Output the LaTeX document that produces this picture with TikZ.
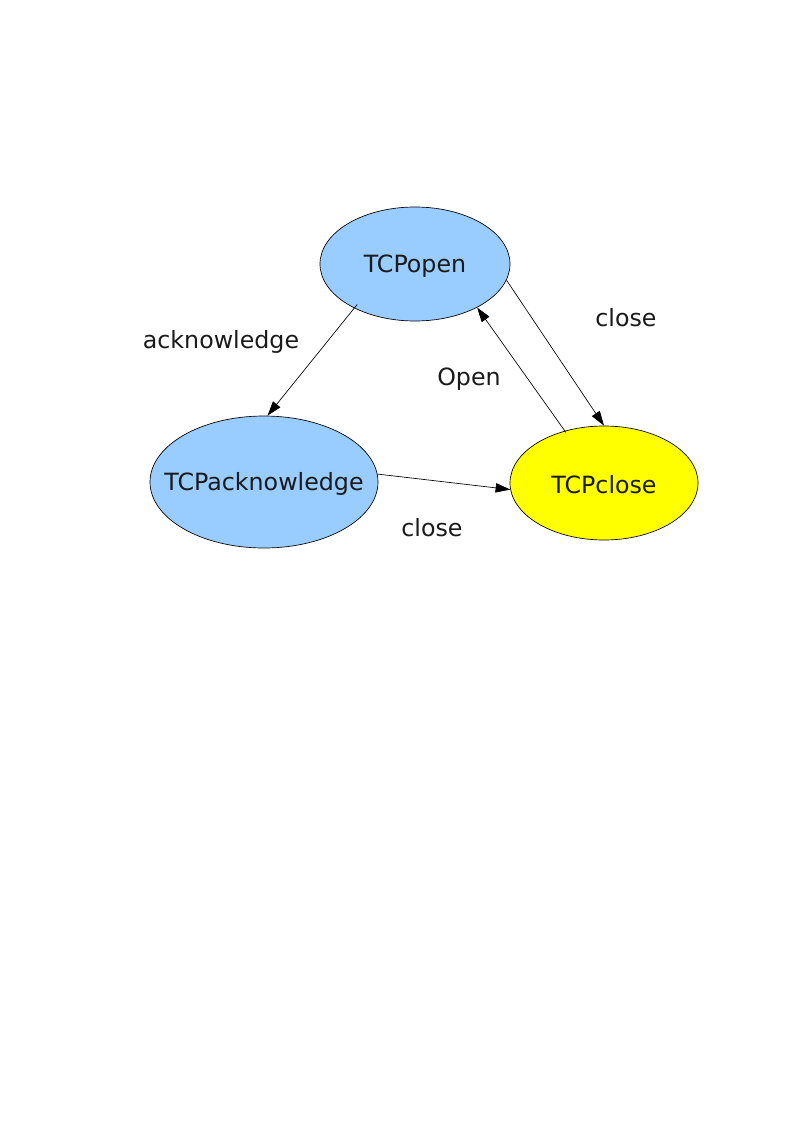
\documentclass[tikz,border=0pt]{standalone}
\usepackage{fontspec}
\setmainfont{DejaVu Sans}
\usetikzlibrary{shapes.geometric,arrows.meta,calc}
\definecolor{stateblue}{RGB}{153,204,255}
\definecolor{stateyellow}{RGB}{255,255,0}
\definecolor{textdark}{RGB}{26,26,26}
\tikzset{
  lbl/.style={inner sep=0pt, text=textdark, font=\fontsize{17.8pt}{20pt}\selectfont},
  statetext/.style={lbl, yshift=-1.5pt},
  state/.style={ellipse, draw=black, line width=0.5pt, inner sep=0pt},
  conn/.style={draw=black, line width=0.5pt, -{Triangle[length=11pt,width=7pt]}}
}
\begin{document}
\begin{tikzpicture}[x=0.75pt,y=-0.75pt]
\useasboundingbox (0,0) rectangle (794,1123);
\node[state, fill=stateblue, minimum width=142.5pt, minimum height=85.5pt,
  label={[statetext]center:TCPopen}] (open) at (415,264) {};
\node[state, fill=stateblue, minimum width=171pt, minimum height=99pt,
  label={[statetext]center:TCPacknowledge}] (ack) at (264,482) {};
\node[state, fill=stateyellow, minimum width=141pt, minimum height=85.5pt,
  label={[statetext]center:TCPclose}] (close) at (604,483) {};
\draw[conn] ($(open.center)!0.93!(open.215)$) -- (ack.87.5);
\draw[conn] (open.-10) -- (close.90);
\draw[conn] ($(close.center)!0.97!(close.127.6)$) -- (open.-35.6);
\draw[conn] (ack.4.5) -- (close.184);
\node[lbl] (l1) at (221,342) {acknowledge};
\node[lbl] (l2) at (626,318) {close};
\node[lbl] (l3) at (469,379) {Open};
\node[lbl] (l4) at (432,528) {close};
\end{tikzpicture}
\end{document}
